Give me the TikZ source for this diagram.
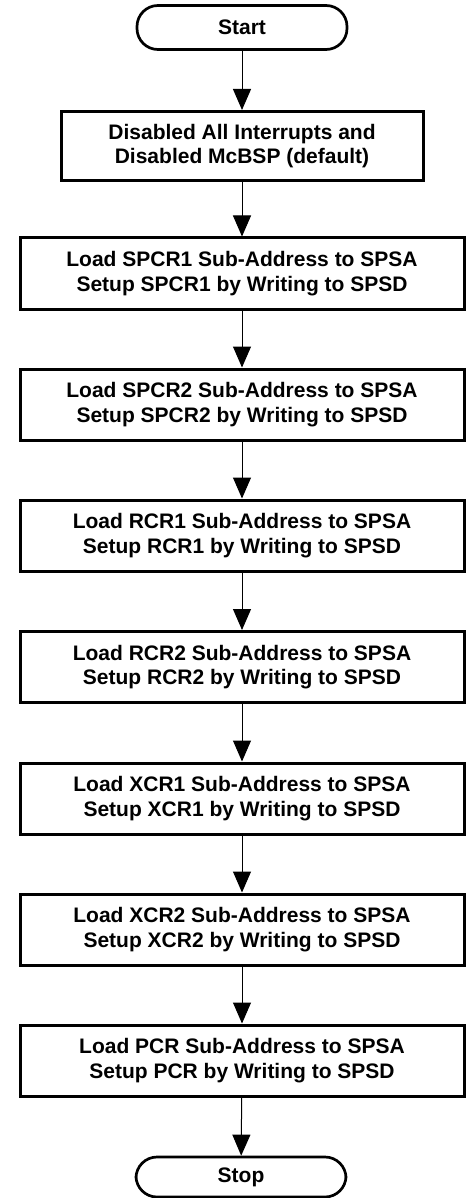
\documentclass[tikz,border=0pt]{standalone}
\usepackage{fontspec}
\setmainfont{Liberation Sans}
\usetikzlibrary{arrows.meta}
\begin{document}
\begin{tikzpicture}[x=1pt,y=-1pt,
  every node/.style={font=\fontsize{21}{24.5}\selectfont\bfseries, align=center},
  procbox/.style={draw, line width=3pt, minimum height=71pt, inner sep=0pt},
  wide/.style={minimum width=444pt},
  termbox/.style={draw, line width=2.7pt, rounded corners=21pt, minimum width=210pt, minimum height=44pt, inner sep=0pt},
  flow/.style={line width=1pt, -{Triangle[width=18pt,length=21pt]}}]
\useasboundingbox (0,0) rectangle (466,1198);
\node[termbox] (start) at (242,27.5) {Start};
\node[procbox, minimum width=362pt, minimum height=69pt] (b1) at (242,146) {Disabled All Interrupts and\\Disabled McBSP (default)};
\node[procbox, wide] (b2) at (242,273.5) {Load SPCR1 Sub-Address to SPSA\\Setup SPCR1 by Writing to SPSD};
\node[procbox, wide] (b3) at (242,404.5) {Load SPCR2 Sub-Address to SPSA\\Setup SPCR2 by Writing to SPSD};
\node[procbox, wide] (b4) at (242,535.5) {Load RCR1 Sub-Address to SPSA\\Setup RCR1 by Writing to SPSD};
\node[procbox, wide] (b5) at (242,667) {Load RCR2 Sub-Address to SPSA\\Setup RCR2 by Writing to SPSD};
\node[procbox, wide] (b6) at (242,798.5) {Load XCR1 Sub-Address to SPSA\\Setup XCR1 by Writing to SPSD};
\node[procbox, wide] (b7) at (242,929.5) {Load XCR2 Sub-Address to SPSA\\Setup XCR2 by Writing to SPSD};
\node[procbox, wide] (b8) at (242,1060.5) {Load PCR Sub-Address to SPSA\\Setup PCR by Writing to SPSD};
\node[termbox, minimum height=40pt] (stop) at (241,1177) {Stop};
\draw[flow] (start) -- (b1);
\draw[flow] (b1) -- (b2);
\draw[flow] (b2) -- (b3);
\draw[flow] (b3) -- (b4);
\draw[flow] (b4) -- (b5);
\draw[flow] (b5) -- (b6);
\draw[flow] (b6) -- (b7);
\draw[flow] (b7) -- (b8);
\draw[flow] (b8) -- (stop);
\end{tikzpicture}
\end{document}
